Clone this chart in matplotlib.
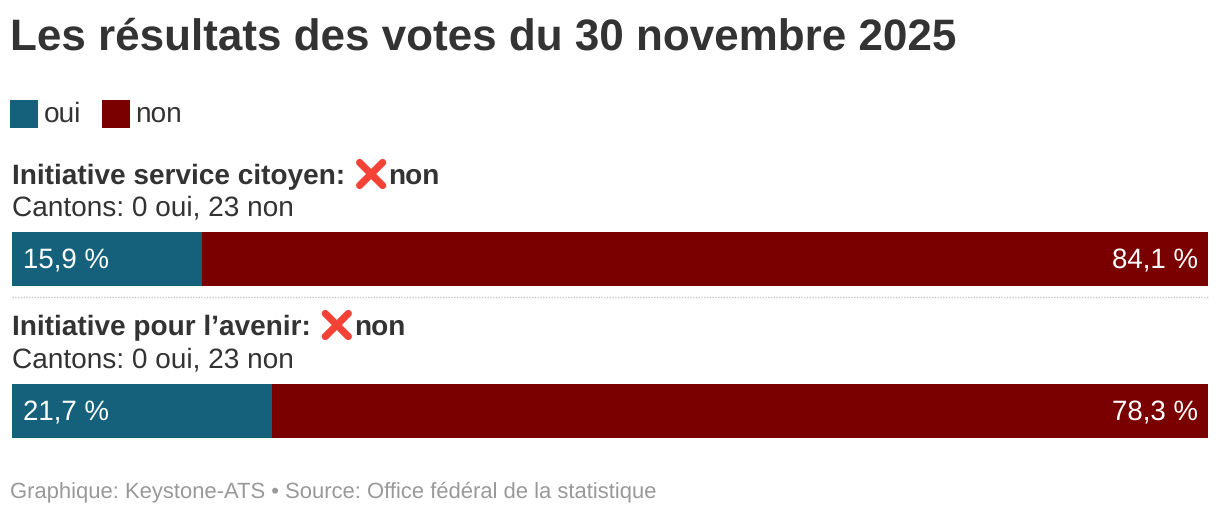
import matplotlib
matplotlib.use("Agg")
import matplotlib.pyplot as plt
from matplotlib.patches import Rectangle

# data
questions = ["Initiative service citoyen:", "Initiative pour l\u2019avenir:"]
results = ["non", "non"]
cantons = ["Cantons: 0 oui, 23 non", "Cantons: 0 oui, 23 non"]
oui = [15.9, 21.7]
non = [84.1, 78.3]

c_oui = "#15607a"
c_non = "#7a0000"
c_text = "#333333"
W, H = 1220, 512

plt.rcParams['font.family'] = ['Liberation Sans', 'DejaVu Sans']
plt.rcParams['text.hinting'] = 'no_hinting'

fig = plt.figure(figsize=(W / 100, H / 100), dpi=100)
bg = fig.add_axes([0, 0, 1, 1])
bg.set_xlim(0, W)
bg.set_ylim(H, 0)
bg.axis("off")


def px(size):
    # pixel size to points
    return size * 0.72


def cross(x, y, s=11.5):
    # red cross emoji, no installed family has it
    bg.plot([x - s, x + s], [y - s, y + s], color="#f44336", lw=5.2, solid_capstyle="round")
    bg.plot([x - s, x + s], [y + s, y - s], color="#f44336", lw=5.2, solid_capstyle="round")


bg.text(10, 49.5, "Les r\u00e9sultats des votes du 30 novembre 2025", fontsize=px(44), fontweight="bold",
        color=c_text, va="baseline", ha="left")

# legend
bg.add_patch(Rectangle((10, 100), 28, 28, fc=c_oui, ec="none"))
bg.text(44, 122, "oui", fontsize=px(28), color=c_text, va="baseline")
bg.add_patch(Rectangle((102, 100), 28, 28, fc=c_non, ec="none"))
bg.text(135, 122, "non", fontsize=px(28), color=c_text, va="baseline")

# one axes per bar, the percent scale gives the bar widths
tops = [232, 384]
heads = [184, 335]
x0, x1 = 12, 1208
for i in range(len(questions)):
    top = tops[i]
    t = bg.text(12, heads[i], questions[i], fontsize=px(28), fontweight="bold", color=c_text, va="baseline")
    fig.canvas.draw()
    end = t.get_window_extent().x1
    cross(end + 26, heads[i] - 10)
    bg.text(end + 43.5, heads[i], results[i], fontsize=px(28), fontweight="bold", color=c_text, va="baseline")
    bg.text(12, top - 17, cantons[i], fontsize=px(28), color=c_text, va="baseline")

    ax = fig.add_axes([x0 / W, 1 - (top + 54) / H, (x1 - x0) / W, 54 / H])
    ax.barh([0], [oui[i]], height=1, color=c_oui)
    ax.barh([0], [non[i]], left=[oui[i]], height=1, color=c_non)
    ax.set_xlim(0, oui[i] + non[i])
    ax.set_ylim(-0.5, 0.5)
    ax.axis("off")
    ax.text(0.009, 18 / 54, f"{oui[i]:.1f} %".replace(".", ","), transform=ax.transAxes, color="white",
            fontsize=px(27.6), va="baseline", ha="left")
    ax.text(0.9915, 18 / 54, f"{non[i]:.1f} %".replace(".", ","), transform=ax.transAxes, color="white",
            fontsize=px(27.6), va="baseline", ha="right")

# dotted separator
bg.plot([12, 1208], [297, 297], color="#c4c4c4", lw=1, ls=(0, (1, 1)))

bg.text(10, 497, "Graphique: Keystone-ATS \u2022 Source: Office f\u00e9d\u00e9ral de la statistique", fontsize=px(22),
        color="#999999", va="baseline")

fig.savefig("out.png", dpi=100)
